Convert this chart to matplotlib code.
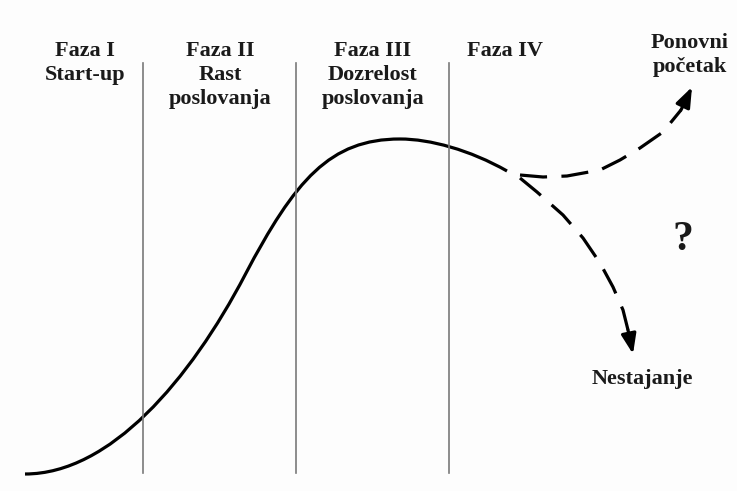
import matplotlib
matplotlib.use("Agg")
import matplotlib.pyplot as plt
from matplotlib.path import Path
from matplotlib.patches import PathPatch

# ---- data (pixel coordinates, y downward) ----
# life-cycle curve as cubic Bezier: anchor, control, control, anchor, ...
curve_x = [25, 110, 190, 245, 295, 330, 400, 430, 470, 507]
curve_y = [474, 474, 380, 275, 180, 139, 139, 139, 150, 171]

up_x = [520, 543, 567, 600, 620, 640, 663, 681]
up_y = [175, 177, 176, 170, 160, 148, 132, 110]
up_tip = (692, 87)

down_x = [520, 537, 563, 583, 600, 613, 623, 628]
down_y = [178, 192, 215, 238, 263, 287, 310, 330]
down_tip = (633, 354)

phase_x = [143, 296, 449]
phase_top, phase_bottom = 63, 473

labels = ["Faza I\nStart-up", "Faza II\nRast\nposlovanja",
          "Faza III\nDozrelost\nposlovanja", "Faza IV"]
label_x = [85, 220, 373, 505]
label_top = 41

fig = plt.figure(figsize=(7.37, 4.91), dpi=100)
fig.patch.set_facecolor("#fdfdfd")
ax = fig.add_axes([0, 0, 1, 1])
ax.set_xlim(0, 737)
ax.set_ylim(491, 0)
ax.axis("off")

font = dict(family="Liberation Serif", fontweight="bold", color="#1a1a1a")

for x in phase_x:
    ax.plot([x, x], [phase_top, phase_bottom], color="#7a7a7a", lw=1.2)

codes = [Path.MOVETO] + [Path.CURVE4] * (len(curve_x) - 1)
path = Path(list(zip(curve_x, curve_y)), codes)
ax.add_patch(PathPatch(path, facecolor="none", edgecolor="black", lw=2.3, capstyle="butt"))

dash = (0, (8.5, 4.5))
ax.plot(up_x, up_y, color="black", lw=2.3, linestyle=dash)
ax.plot(down_x, down_y, color="black", lw=2.3, linestyle=dash)

arrow = dict(arrowstyle="-|>,head_length=1.2,head_width=0.45", color="black", lw=2.3,
             shrinkA=0, shrinkB=0)
ax.annotate("", xy=up_tip, xytext=(up_x[-1], up_y[-1]), arrowprops=arrow)
ax.annotate("", xy=down_tip, xytext=(down_x[-1], down_y[-1]), arrowprops=arrow)

for t, x in zip(labels, label_x):
    ax.text(x, label_top, t, ha="center", va="top", fontsize=16, linespacing=1.25, **font)

ax.text(690, 33, "Ponovni\npočetak", ha="center", va="top", fontsize=16, linespacing=1.25, **font)
ax.text(642, 369, "Nestajanje", ha="center", va="top", fontsize=16, **font)
ax.text(683, 240, "?", ha="center", va="center", fontsize=30, **font)

fig.savefig("out.png", dpi=100, facecolor=fig.get_facecolor())
